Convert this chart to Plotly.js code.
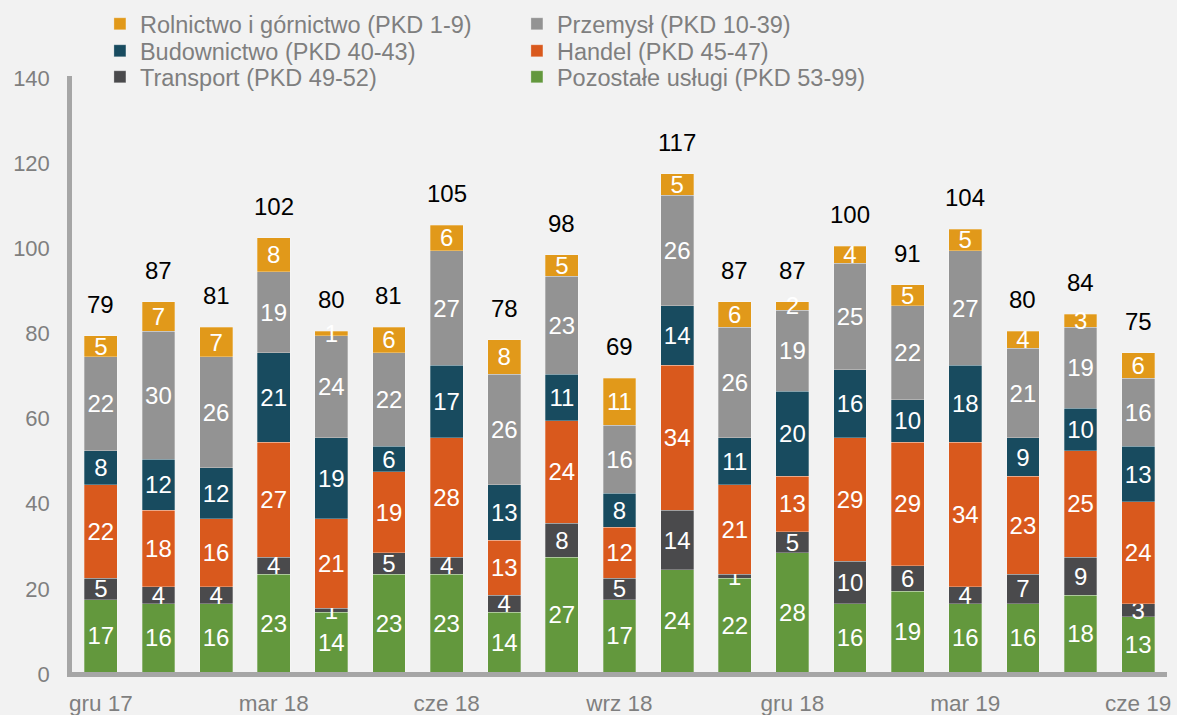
<!DOCTYPE html>
<html>
<head>
<meta charset="utf-8">
<script src="https://cdn.plot.ly/plotly-3.0.1.min.js"></script>
<style>
html,body{margin:0;padding:0;background:#f2f2f2;}
#chart{width:1177px;height:715px;}
</style>
</head>
<body>
<div id="chart"></div>
<script>
var categories = ['gru 17','sty 18','lut 18','mar 18','kwi 18','maj 18','cze 18','lip 18','sie 18','wrz 18','paź 18','lis 18','gru 18','sty 19','lut 19','mar 19','kwi 19','maj 19','cze 19'];
var tickLabels = ['gru 17','mar 18','cze 18','wrz 18','gru 18','mar 19','cze 19'];

var pozostale  = [17,16,16,23,14,23,23,14,27,17,24,22,28,16,19,16,16,18,13];
var transport  = [5,4,4,4,1,5,4,4,8,5,14,1,5,10,6,4,7,9,3];
var handel     = [22,18,16,27,21,19,28,13,24,12,34,21,13,29,29,34,23,25,24];
var budownictwo= [8,12,12,21,19,6,17,13,11,8,14,11,20,16,10,18,9,10,13];
var przemysl   = [22,30,26,19,24,22,27,26,23,16,26,26,19,25,22,27,21,19,16];
var rolnictwo  = [5,7,7,8,1,6,6,8,5,11,5,6,2,4,5,5,4,3,6];
var totals     = [79,87,81,102,80,81,105,78,98,69,117,87,87,100,91,104,80,84,75];

// legend row assignment: row 3, row 3, row 2, row 2, row 1, row 1
var series = [
  {name:'Pozostałe usługi (PKD 53-99)', values:pozostale, color:'#63983d', legend:'legend3'},
  {name:'Transport (PKD 49-52)', values:transport, color:'#4a4a4c', legend:'legend3'},
  {name:'Handel (PKD 45-47)', values:handel, color:'#d9591d', legend:'legend2'},
  {name:'Budownictwo (PKD 40-43)', values:budownictwo, color:'#184b5f', legend:'legend2'},
  {name:'Przemysł (PKD 10-39)', values:przemysl, color:'#939393', legend:'legend'},
  {name:'Rolnictwo i górnictwo (PKD 1-9)', values:rolnictwo, color:'#e1991a', legend:'legend'}
];

var traces = series.map(function(s){
  return {
    type:'bar', name:s.name, x:categories, y:s.values, legend:s.legend,
    marker:{color:s.color, line:{color:'rgba(255,255,255,0.35)', width:0.8}},
    text:s.values.map(String), textposition:'inside', insidetextanchor:'middle',
    textangle:0, constraintext:'none', cliponaxis:false,
    insidetextfont:{family:'Liberation Sans, Arial, sans-serif', size:24, color:'#ffffff'},
    hoverinfo:'name+y'
  };
});

var annotations = categories.map(function(c,i){
  return {x:c, y:totals[i], text:String(totals[i]), showarrow:false, yanchor:'bottom',
          yshift:16, font:{family:'Liberation Sans, Arial, sans-serif', size:24, color:'#000000'}};
});

function legendRow(yc){
  return {orientation:'h', traceorder:'reversed', x:0.0255, xanchor:'left',
          y:yc, yanchor:'middle', entrywidthmode:'pixels', entrywidth:372,
          bgcolor:'rgba(0,0,0,0)', font:{size:23.5, color:'#7f7f7f'}};
}

var layout = {
  width:1177, height:715,
  paper_bgcolor:'#f2f2f2', plot_bgcolor:'#f2f2f2',
  barmode:'stack', bargap:0.43,
  margin:{l:72, r:10, t:76, b:43, autoexpand:false},
  font:{family:'Liberation Sans, Arial, sans-serif', color:'#7f7f7f'},
  xaxis:{type:'category', categoryorder:'array', categoryarray:categories,
         tickmode:'array', tickvals:tickLabels, ticktext:tickLabels,
         showline:true, linecolor:'#a6a6a6', linewidth:4.5, showgrid:false, ticks:'',
         tickfont:{size:22.5, color:'#7f7f7f'}, ticklabelstandoff:7, zeroline:false, fixedrange:true},
  yaxis:{range:[0,140], dtick:20, showline:true, linecolor:'#a6a6a6', linewidth:4.5,
         showgrid:false, ticks:'', zeroline:false, tickfont:{size:22, color:'#7f7f7f'},
         ticklabelstandoff:13, ticklabelshift:2, fixedrange:true},
  legend:legendRow(1 + (76-24)/596),
  legend2:legendRow(1 + (76-51)/596),
  legend3:legendRow(1 + (76-77)/596),
  annotations:annotations,
  showlegend:true
};

Plotly.newPlot('chart', traces, layout, {displayModeBar:false});
</script>
</body>
</html>
